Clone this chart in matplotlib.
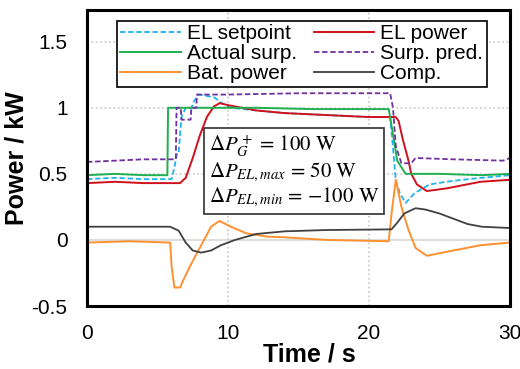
import matplotlib
matplotlib.use("Agg")
import matplotlib.pyplot as plt

plt.rcParams['font.family'] = ['Liberation Sans', 'DejaVu Sans']
plt.rcParams['mathtext.fontset'] = 'stix'

# EL setpoint
t_set = [0, 2, 4, 6.0, 6.2, 6.4, 6.5, 6.7, 7.0, 7.4, 7.6, 7.9, 8.5, 9.0, 9.5, 10.2, 12, 14, 16, 18, 20, 21.5,
         21.7, 21.9, 22.2, 22.6, 23.2, 23.8, 24.3, 25.5, 26.6, 28, 30]
v_set = [0.46, 0.47, 0.46, 0.46, 0.55, 0.66, 0.66, 0.93, 1.0, 1.0, 1.05, 1.10, 1.09, 1.08, 1.04, 1.0, 0.98, 0.96, 0.95, 0.94, 0.93, 0.93,
         0.70, 0.45, 0.35, 0.28, 0.35, 0.39, 0.42, 0.44, 0.455, 0.47, 0.49]

# EL power
t_el = [0, 2, 4, 6.6, 7.0, 7.5, 8.0, 8.5, 9.0, 9.4, 10, 12, 14, 16, 18, 20, 21.9, 22.1, 22.4, 22.8, 23.0, 23.4,
        24.1, 25.5, 27.9, 30]
v_el = [0.43, 0.44, 0.43, 0.43, 0.47, 0.62, 0.79, 0.93, 1.01, 1.035, 1.02, 0.98, 0.96, 0.95, 0.94, 0.93, 0.93, 0.90, 0.76, 0.60, 0.50, 0.42,
        0.37, 0.39, 0.44, 0.455]

# Actual surplus
t_act = [0, 2, 4, 5.7, 5.75, 8, 12, 16, 20, 21.4, 21.7, 22.0, 22.6, 25, 28, 30]
v_act = [0.49, 0.50, 0.49, 0.49, 1.0, 1.0, 1.0, 0.99, 0.99, 0.99, 0.80, 0.60, 0.50, 0.50, 0.49, 0.50]

# Surplus prediction
t_pred = [0, 2, 4, 6.3, 6.35, 6.65, 6.7, 7.35, 7.4, 7.75, 7.8, 10, 15, 21.5, 21.7, 21.9, 22.3, 23.0, 23.3, 26, 29.5, 30]
v_pred = [0.59, 0.60, 0.61, 0.61, 1.0, 1.0, 0.91, 0.91, 1.0, 1.0, 1.10, 1.10, 1.11, 1.11, 1.0, 0.71, 0.58, 0.58, 0.62, 0.61, 0.60, 0.62]

# Battery power
t_bat = [0, 3, 5.9, 6.0, 6.2, 6.6, 6.85, 7.3, 7.8, 8.3, 8.8, 9.4, 10.2, 11.3, 12.8, 14, 17, 21.4, 21.6, 21.9, 22.3, 22.8, 23.3,
         24.1, 25.5, 27.9, 30]
v_bat = [-0.02, -0.01, -0.02, -0.20, -0.36, -0.36, -0.30, -0.20, -0.10, 0.0, 0.10, 0.144, 0.10, 0.05, 0.025, 0.02, 0.0, -0.01, 0.20, 0.455, 0.25, 0.076, -0.06,
         -0.12, -0.09, -0.04, -0.02]

# Compensation
t_comp = [0, 3, 5.9, 6.5, 7.0, 7.5, 8.1, 8.8, 9.5, 10.5, 12, 14, 17, 21.6, 22.0, 22.5, 23.3, 24, 25, 26, 27, 28, 30]
v_comp = [0.10, 0.10, 0.10, 0.07, -0.02, -0.08, -0.096, -0.08, -0.04, 0.0, 0.045, 0.065, 0.075, 0.08, 0.13, 0.20, 0.24, 0.23, 0.20, 0.16, 0.12, 0.10, 0.09]

xticks = [0, 10, 20, 30]
yticks = [-0.5, 0, 0.5, 1, 1.5]
ytick_labels = ['-0.5', '0', '0.5', '1', '1.5']

fig = plt.figure(figsize=(5.2, 3.69), dpi=100)
ax = fig.add_axes([87 / 520, 1 - 306 / 369, 423 / 520, 296 / 369])

l_set, = ax.plot(t_set, v_set, color='#1EB4F0', ls=(0, (3, 1.5)), lw=1.3, label='EL setpoint')
l_el, = ax.plot(t_el, v_el, color='#D0101C', lw=1.4, label='EL power')
l_act, = ax.plot(t_act, v_act, color='#1FAF50', lw=1.4, label='Actual surp.')
l_pred, = ax.plot(t_pred, v_pred, color='#7030A0', ls=(0, (3, 1.5)), lw=1.3, label='Surp. pred.')
l_bat, = ax.plot(t_bat, v_bat, color='#FF9030', lw=1.4, label='Bat. power')
l_comp, = ax.plot(t_comp, v_comp, color='#404040', lw=1.3, label='Comp.')

ax.set_xlim(0, 30)
ax.set_ylim(-0.5, 1.74)
ax.set_xticks(xticks)
ax.set_yticks(yticks)
ax.set_yticklabels(ytick_labels)
ax.tick_params(axis='y', length=0, labelsize=15, pad=14)
ax.tick_params(axis='x', length=0, labelsize=15, pad=13)

for x in [10, 20]:
    ax.axvline(x, color='#C8C8C8', ls=':', lw=1.2, zorder=0)
for y in [0.5, 1, 1.5]:
    ax.axhline(y, color='#C8C8C8', ls=':', lw=1.2, zorder=0)
ax.axhline(0, color='#D8D8D8', lw=1.2, zorder=0)

for s in ax.spines.values():
    s.set_linewidth(2.2)

ax.set_xlabel('Time / s', fontsize=18, fontweight='bold')
ax.xaxis.set_label_coords(0.525, -0.125)
ax.set_ylabel('Power / kW', fontsize=18, fontweight='bold', labelpad=2)

handles = [l_set, l_act, l_bat, l_el, l_pred, l_comp]
leg = ax.legend(handles=handles, ncol=2, loc='upper center', bbox_to_anchor=(0.508, 0.962), fontsize=15,
                handlelength=2.9, columnspacing=0.8, labelspacing=0.05, handletextpad=0.3,
                borderpad=0.15, borderaxespad=0, fancybox=False, framealpha=1, edgecolor='black')
leg.get_frame().set_linewidth(1.2)

txt = '$\\Delta P_G^+$ = 100 W\n$\\Delta P_{EL,max}$ = 50 W\n$\\Delta P_{EL,min}$ = \u2212100 W'
ax.text(0.49, 0.456, txt, transform=ax.transAxes, fontsize=15, family='STIXGeneral',
        va='center', ha='center', multialignment='left', linespacing=1.15,
        bbox=dict(boxstyle='square,pad=0.22', fc='white', ec='#404040', lw=1.3))

fig.savefig('out.png', dpi=100)
